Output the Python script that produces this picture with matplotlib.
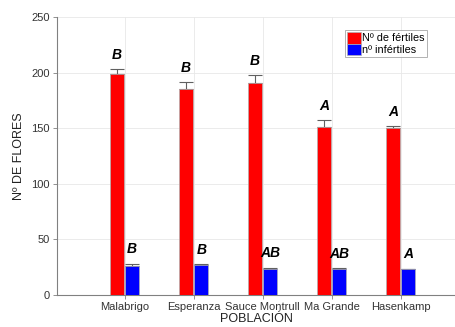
import matplotlib
matplotlib.use('Agg')
import matplotlib.pyplot as plt
import numpy as np

plt.rcParams['font.family'] = ['Liberation Sans', 'DejaVu Sans']

poblaciones = ['Malabrigo', 'Esperanza', 'Sauce Montrull', 'Ma Grande', 'Hasenkamp']
fertiles = [199, 185.5, 190.5, 151.5, 150.2]
fertiles_err = [4.5, 6.3, 7.3, 6.0, 2.1]
infertiles = [26.4, 26.7, 23.4, 23.4, 23.1]
infertiles_err = [1.8, 0.8, 1.2, 0.7, 0.5]
letras_fert = ['B', 'B', 'B', 'A', 'A']
letras_inf = ['B', 'B', 'AB', 'AB', 'A']

fig = plt.figure(figsize=[4.56, 3.27], dpi=100)
ax = fig.add_axes([0.125, 0.098, 0.875, 0.85])

x = np.arange(1, len(poblaciones) + 1)
w = 0.2
ax.bar(x - w/2 - 0.01, fertiles, w, color='#ff0000', edgecolor='#b0b0b0', linewidth=0.5,
       label='Nº de fértiles', zorder=3)
ax.bar(x + w/2 + 0.01, infertiles, w, color='#0000ff', edgecolor='#b0b0b0', linewidth=0.5,
       label='nº infértiles', zorder=3)
ax.errorbar(x - w/2 - 0.01, fertiles, yerr=[np.zeros(5), fertiles_err], fmt='none',
            ecolor='#606060', elinewidth=0.8, capsize=5, capthick=0.8, zorder=2)
ax.errorbar(x + w/2 + 0.01, infertiles, yerr=[np.zeros(5), infertiles_err], fmt='none',
            ecolor='#606060', elinewidth=0.8, capsize=5, capthick=0.8, zorder=2)

for i in range(len(poblaciones)):
    ax.annotate(letras_fert[i], xy=(x[i] - w/2 - 0.01, fertiles[i] + fertiles_err[i]),
                xytext=(0, 10), textcoords='offset points', ha='center', va='center',
                fontsize=10, fontweight='bold', fontstyle='italic')
    ax.annotate(letras_inf[i], xy=(x[i] + w/2 + 0.01, infertiles[i] + infertiles_err[i]),
                xytext=(0, 10.5), textcoords='offset points', ha='center', va='center',
                fontsize=10, fontweight='bold', fontstyle='italic')

ax.set_xlim(0.02, 5.8)
ax.set_ylim(0, 250)
ax.set_xticks(x)
ax.set_xticklabels(poblaciones, fontsize=8)
ax.set_yticks(np.arange(0, 251, 50))
ax.tick_params(axis='y', labelsize=8, colors='#333333', length=3, width=0.6, color='#808080', pad=2)
ax.tick_params(axis='x', colors='#333333', length=3, width=0.6, color='#808080', pad=2)
ax.set_xlabel('POBLACIÓN', fontsize=9, labelpad=1, color='#222222')
ax.set_ylabel('Nº DE FLORES', fontsize=9, labelpad=5, color='#222222')
ax.grid(True, color='#e8e8e8', linewidth=0.6, zorder=0)
ax.set_axisbelow(True)
for s in ['top', 'right']:
    ax.spines[s].set_visible(False)
for s in ['left', 'bottom']:
    ax.spines[s].set_color('#808080')
    ax.spines[s].set_linewidth(0.8)

leg = ax.legend(loc='upper left', bbox_to_anchor=(0.722, 0.953), fontsize=7.8, fancybox=False,
                handlelength=1.3, handleheight=1.3, handletextpad=0.15, borderpad=0.15,
                labelspacing=0.0, borderaxespad=0)
leg.get_frame().set_edgecolor('#909090')
leg.get_frame().set_linewidth(0.6)

fig.savefig('out.png', dpi=100)
